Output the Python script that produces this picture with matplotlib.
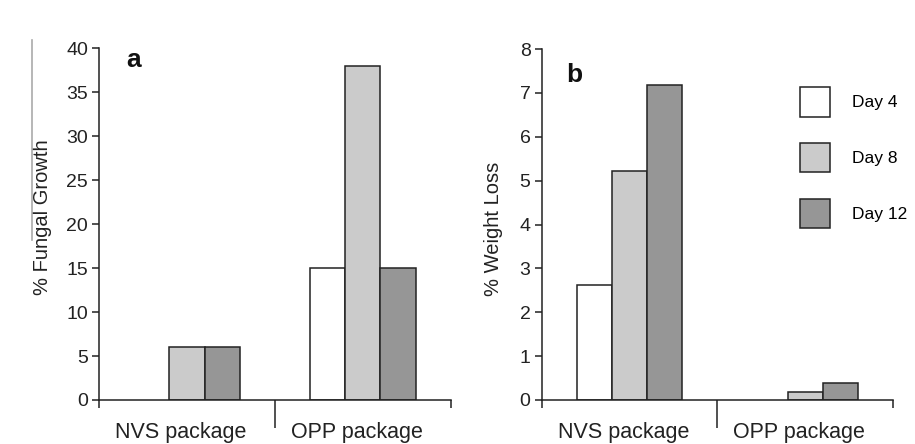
import matplotlib.pyplot as plt
import numpy as np
from matplotlib.lines import Line2D
from matplotlib.transforms import ScaledTranslation

plt.rcParams['font.family'] = ['Liberation Sans', 'DejaVu Sans']

packages = ["NVS package", "OPP package"]
days = ["Day 4", "Day 8", "Day 12"]
colors = ["#ffffff", "#cbcbcb", "#969696"]

# % fungal growth per package for Day 4, 8, 12
fungal = {"Day 4": [0, 15], "Day 8": [6, 38], "Day 12": [6, 15]}
# % weight loss per package for Day 4, 8, 12
weight = {"Day 4": [2.62, 0], "Day 8": [5.23, 0.19], "Day 12": [7.17, 0.39]}

fig = plt.figure(figsize=(9.15, 4.44), dpi=100)
ax1 = fig.add_axes([0.1082, 0.0991, 0.3844, 0.7921])
ax2 = fig.add_axes([0.5920, 0.0991, 0.3843, 0.7905])

x = np.arange(len(packages))
w = 0.2


def draw(ax, data, ymax, ystep, ylabel, letter, letter_xy, label_x, label_y):
    for i, d in enumerate(days):
        vals = data[d]
        for j, v in enumerate(vals):
            if v > 0:
                ax.bar(x[j] + (i - 1) * w, v, w, color=colors[i],
                       edgecolor="#222222", linewidth=1.1, label=d if j == 0 else None)
    ax.set_xlim(-0.5, 1.5)
    ax.set_ylim(0, ymax)
    ax.set_yticks(np.arange(0, ymax + ystep / 2, ystep))
    ax.spines['top'].set_visible(False)
    ax.spines['right'].set_visible(False)
    for s in ['left', 'bottom']:
        ax.spines[s].set_linewidth(1.1)
        ax.spines[s].set_color("#222222")
    ax.tick_params(axis='y', direction='out', length=5, width=1.1, labelsize=14,
                   pad=3, colors="#222222")
    ax.set_xticks(x)
    ax.set_xticklabels(packages, fontsize=15.5, color="#222222")
    ax.tick_params(axis='x', which='major', length=0, pad=16)
    # category labels sit a little left of the group centre
    shift = ScaledTranslation(-6 / 100, 0, fig.dpi_scale_trans)
    for lab in ax.get_xticklabels():
        lab.set_transform(lab.get_transform() + shift)
    ax.set_xticks([-0.5, 0.5, 1.5], minor=True)
    ax.tick_params(axis='x', which='minor', direction='out', length=6, width=1.1,
                   color="#222222")
    ax.xaxis.get_minor_ticks()[1].tick1line.set_markersize(20)
    ax.set_ylabel(ylabel, fontsize=14.5, color="#222222")
    ax.yaxis.set_label_coords(label_x, label_y)
    ax.text(letter_xy[0], letter_xy[1], letter, fontsize=19, fontweight='bold',
            ha='left', va='baseline', color="#111111")


draw(ax1, fungal, 40, 5, "% Fungal Growth", "a", (-0.347, 37.9), -0.134, 0.521)
draw(ax2, weight, 8, 1, "% Weight Loss", "b", (-0.362, 7.25), -0.11, 0.487)

leg = ax2.legend(loc='upper left', bbox_to_anchor=(800 / 915, 1 - 86.7 / 444),
                 bbox_transform=fig.transFigure, frameon=False, fontsize=12.5,
                 handlelength=1.72, handleheight=2.27, labelspacing=1.5,
                 handletextpad=1.3, borderpad=0, borderaxespad=0)

# grey scan edge line on the left of the page
fig.add_artist(Line2D([32 / 915, 32 / 915], [1 - 40 / 444, 1 - 240 / 444],
                      transform=fig.transFigure, color="#aaaaaa", linewidth=1.2))

fig.savefig("out.png", dpi=100)
